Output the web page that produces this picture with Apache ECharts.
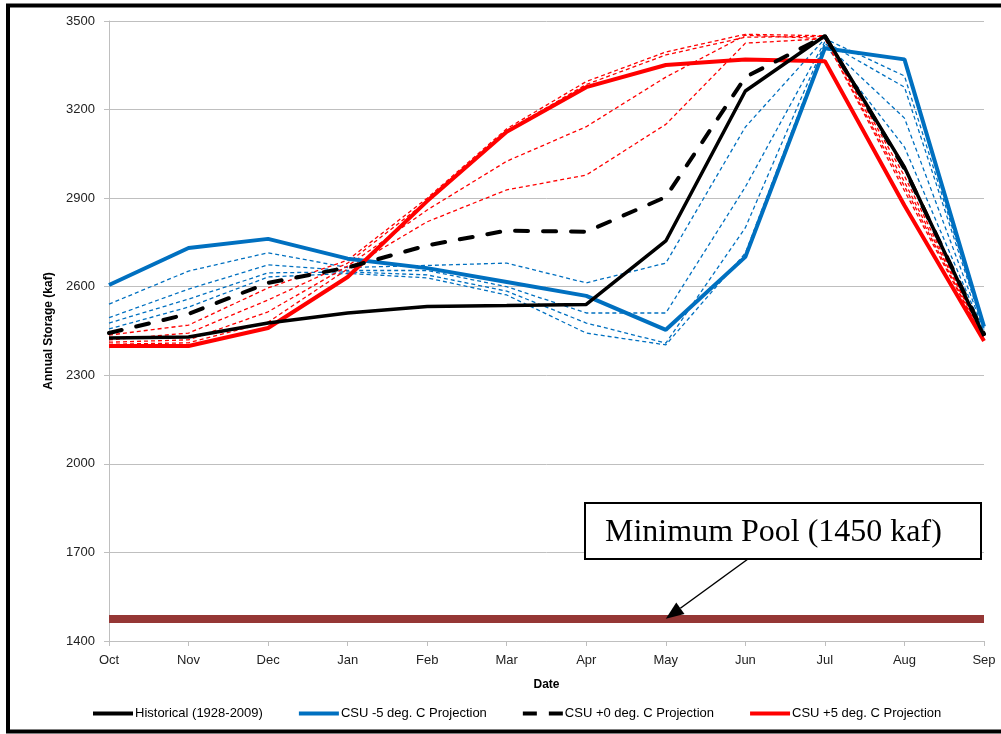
<!DOCTYPE html>
<html>
<head>
<meta charset="utf-8">
<script src="https://cdn.jsdelivr.net/npm/echarts@6/dist/echarts.min.js"></script>
<style>
html,body{margin:0;padding:0;background:#fff;}
#chart{width:1001px;height:734px;}
</style>
</head>
<body>
<div id="chart"></div>
<script>
const categories = ['Oct','Nov','Dec','Jan','Feb','Mar','Apr','May','Jun','Jul','Aug','Sep'];
const yTicks = { min: 1400, max: 3500, interval: 300 };

const historical = [2426, 2430, 2477, 2511, 2533, 2536, 2540, 2755, 3263, 3450, 3005, 2433];
const csuMinus5  = [2606, 2731, 2762, 2695, 2663, 2616, 2569, 2454, 2701, 3408, 3370, 2465];
const csuPlus0   = [2443, 2508, 2613, 2665, 2740, 2790, 2786, 2904, 3310, 3449, 3000, 2440];
const csuPlus5   = [2399, 2399, 2460, 2633, 2890, 3125, 3276, 3351, 3370, 3364, 2875, 2416];

const blueEns1 = [2541, 2653, 2715, 2665, 2672, 2680, 2613, 2680, 3141, 3440, 3314, 2460];
const blueEns2 = [2495, 2592, 2674, 2655, 2655, 2600, 2511, 2511, 2938, 3430, 3276, 2455];
const blueEns3 = [2477, 2558, 2647, 2650, 2640, 2585, 2477, 2409, 2800, 3425, 3171, 2450];
const blueEns4 = [2457, 2531, 2633, 2645, 2630, 2572, 2443, 2403, 2714, 3420, 3073, 2445];

const redEns1 = [2436, 2470, 2596, 2690, 2900, 3135, 3295, 3395, 3455, 3450, 2975, 2425];
const redEns2 = [2420, 2443, 2555, 2680, 2890, 3128, 3285, 3385, 3445, 3448, 2955, 2425];
const redEns3 = [2412, 2420, 2515, 2670, 2860, 3025, 3142, 3310, 3452, 3440, 2940, 2420];
const redEns4 = [2405, 2410, 2480, 2660, 2820, 2928, 2978, 3150, 3425, 3440, 2925, 2420];

const minPool = 1475;
const minPoolLabel = 'Minimum Pool (1450 kaf)';

const legendNames = ['Historical (1928-2009)', 'CSU -5 deg. C Projection', 'CSU +0 deg. C Projection', 'CSU +5 deg. C Projection'];

const FONT = '"Liberation Sans", Arial, sans-serif';

function ens(name, data, color) {
  return {
    name: name, type: 'line', data: data, symbol: 'none', silent: true, z: 2,
    lineStyle: { color: color, width: 1.3, type: [4, 3] }
  };
}

const series = [
  ens('b1', blueEns1, '#0070C0'),
  ens('b2', blueEns2, '#0070C0'),
  ens('b3', blueEns3, '#0070C0'),
  ens('b4', blueEns4, '#0070C0'),
  ens('r1', redEns1, '#FF0000'),
  ens('r2', redEns2, '#FF0000'),
  ens('r3', redEns3, '#FF0000'),
  ens('r4', redEns4, '#FF0000'),
  {
    name: 'minpool', type: 'line', data: [], symbol: 'none', silent: true, z: 1,
    markLine: {
      silent: true, symbol: ['none', 'none'], label: { show: false },
      lineStyle: { color: '#953735', width: 8, type: 'solid' },
      data: [{ yAxis: minPool }]
    }
  },
  { name: legendNames[1], type: 'line', data: csuMinus5, symbol: 'none', z: 3,
    lineStyle: { color: '#0070C0', width: 4 }, itemStyle: { color: '#0070C0' } },
  { name: legendNames[3], type: 'line', data: csuPlus5, symbol: 'none', z: 4,
    lineStyle: { color: '#FF0000', width: 4 }, itemStyle: { color: '#FF0000' } },
  { name: legendNames[2], type: 'line', data: csuPlus0, symbol: 'none', z: 5,
    lineStyle: { color: '#000000', width: 4, type: [13, 15], cap: 'round' }, itemStyle: { color: '#000000' } },
  { name: legendNames[0], type: 'line', data: historical, symbol: 'none', z: 6,
    lineStyle: { color: '#000000', width: 3.5 }, itemStyle: { color: '#000000' } }
];

const solidIcon = 'path://M0,0H40V4H0Z';
const dashIcon = 'path://M0,0H14V4H0Z M26,0H40V4H26Z';

const chart = echarts.init(document.getElementById('chart'), null, { renderer: 'canvas' });
chart.setOption({
  animation: false,
  backgroundColor: '#ffffff',
  grid: { left: 109, right: 17, top: 21, bottom: 93, containLabel: false },
  legend: {
    data: [
      { name: legendNames[0], icon: solidIcon },
      { name: legendNames[1], icon: solidIcon },
      { name: legendNames[2], icon: dashIcon },
      { name: legendNames[3], icon: solidIcon }
    ],
    left: 88, top: 702,
    itemWidth: 40, itemHeight: 4, itemGap: 36,
    textStyle: { fontFamily: FONT, fontSize: 13, color: '#000', padding: [0, 0, 0, -3] },
    selectedMode: false
  },
  xAxis: {
    type: 'category', data: categories, boundaryGap: false,
    name: 'Date', nameLocation: 'middle', nameGap: 38,
    nameTextStyle: { fontFamily: FONT, fontSize: 12, fontWeight: 'bold', color: '#000' },
    axisLine: { lineStyle: { color: '#BFBFBF', width: 1 } },
    axisTick: { show: true, alignWithLabel: true, length: 5, lineStyle: { color: '#BFBFBF' } },
    axisLabel: { fontFamily: FONT, fontSize: 13, color: '#222', margin: 13, interval: 0 },
    splitLine: { show: false }
  },
  yAxis: {
    type: 'value', min: yTicks.min, max: yTicks.max, interval: yTicks.interval,
    name: 'Annual Storage (kaf)', nameLocation: 'middle', nameGap: 48, nameRotate: 90,
    nameTextStyle: { fontFamily: FONT, fontSize: 12, fontWeight: 'bold', color: '#000' },
    axisLine: { show: true, lineStyle: { color: '#BFBFBF', width: 1 } },
    axisTick: { show: true, length: 5, lineStyle: { color: '#BFBFBF' } },
    axisLabel: { fontFamily: FONT, fontSize: 13, color: '#222', margin: 14, formatter: function (v) { return String(v); } },
    splitLine: { show: true, lineStyle: { color: '#BFBFBF', width: 1 } }
  },
  series: series
});

// annotation (box + arrow) pointing at the minimum pool line
const tip = chart.convertToPixel({ xAxisIndex: 0, yAxisIndex: 0 }, ['May', minPool]);
const start = [748, 559];
const dx = tip[0] - start[0], dy = tip[1] - start[1];
const len = Math.sqrt(dx * dx + dy * dy);
const ux = dx / len, uy = dy / len;
const headLen = 18, headW = 7;
const bx = tip[0] - ux * headLen, by = tip[1] - uy * headLen;
const nx = -uy, ny = ux;

chart.setOption({
  graphic: [
    { type: 'rect', silent: true, z: 100,
      shape: { x: 8, y: 5.5, width: 1004, height: 726 },
      style: { fill: 'none', stroke: '#000', lineWidth: 4 } },
    { type: 'rect', silent: true, z: 100,
      shape: { x: 585, y: 503, width: 396, height: 56 },
      style: { fill: '#fff', stroke: '#000', lineWidth: 2 } },
    { type: 'text', silent: true, z: 101, x: 605, y: 533,
      style: { text: minPoolLabel, font: '32px "Liberation Serif", "Times New Roman", serif', fill: '#000', verticalAlign: 'middle', textAlign: 'left' } },
    { type: 'line', silent: true, z: 100,
      shape: { x1: start[0], y1: start[1], x2: bx, y2: by },
      style: { stroke: '#000', lineWidth: 1.5 } },
    { type: 'polygon', silent: true, z: 100,
      shape: { points: [[tip[0], tip[1]], [bx + nx * headW, by + ny * headW], [bx - nx * headW, by - ny * headW]] },
      style: { fill: '#000' } }
  ]
});
</script>
</body>
</html>
